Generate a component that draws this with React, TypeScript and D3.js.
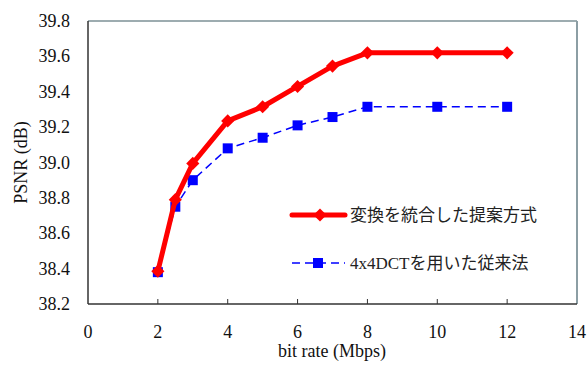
import { useEffect, useRef } from 'react';
import * as d3 from 'd3';

// bit rate (Mbps)
const bitRates = [2, 2.5, 3, 4, 5, 6, 7, 8, 10, 12];
// PSNR (dB)
const proposed = [38.385, 38.79, 38.995, 39.235, 39.315, 39.43, 39.545, 39.62, 39.62, 39.62];
const conventional = [38.38, 38.75, 38.9, 39.08, 39.14, 39.21, 39.257, 39.315, 39.315, 39.315];

const xTicks = [0, 2, 4, 6, 8, 10, 12, 14];
const yTicks = [38.2, 38.4, 38.6, 38.8, 39.0, 39.2, 39.4, 39.6, 39.8];

const legendLabels = ['変換を統合した提案方式', '4x4DCTを用いた従来法'];

export default function App() {
    const svgRef = useRef<SVGSVGElement>(null);

    useEffect(() => {
        if (!svgRef.current) return;
        const svg = d3.select(svgRef.current);
        svg.selectAll('*').remove();

        const left = 88, right = 577, top = 21, bottom = 304;
        const serif = '"Liberation Serif", "Times New Roman", serif';
        const jp = '"Liberation Serif", "Noto Sans CJK JP", serif';
        const fs = 18;

        const x = d3.scaleLinear().domain([0, 14]).range([left, right]);
        const y = d3.scaleLinear().domain([38.2, 39.8]).range([bottom, top]);

        svg.append('rect')
            .attr('width', 587).attr('height', 367).attr('fill', '#fff');

        // frame: top and right gray
        svg.append('line')
            .attr('x1', left).attr('x2', right).attr('y1', top).attr('y2', top)
            .attr('stroke', '#7d9096').attr('stroke-width', 1.5);
        svg.append('line')
            .attr('x1', right).attr('x2', right).attr('y1', top).attr('y2', bottom)
            .attr('stroke', '#8c9ea4').attr('stroke-width', 2);

        // x axis
        const gx = svg.append('g');
        gx.append('line')
            .attr('x1', left).attr('x2', right).attr('y1', bottom).attr('y2', bottom)
            .attr('stroke', '#333').attr('stroke-width', 1.5);
        xTicks.forEach(t => {
            if (t > 0 && t < 14) {
                gx.append('line')
                    .attr('x1', x(t)).attr('x2', x(t))
                    .attr('y1', bottom).attr('y2', bottom - 5)
                    .attr('stroke', '#333').attr('stroke-width', 1);
            }
            gx.append('text')
                .attr('x', x(t)).attr('y', 338)
                .attr('text-anchor', 'middle')
                .attr('font-family', serif).attr('font-size', fs)
                .attr('fill', '#111')
                .text(String(t));
        });

        // y axis
        const gy = svg.append('g');
        gy.append('line')
            .attr('x1', left).attr('x2', left).attr('y1', top).attr('y2', bottom)
            .attr('stroke', '#333').attr('stroke-width', 1.5);
        yTicks.forEach(t => {
            gy.append('text')
                .attr('x', 70).attr('y', y(t) + 6)
                .attr('text-anchor', 'end')
                .attr('font-family', serif).attr('font-size', fs)
                .attr('fill', '#111')
                .text(t.toFixed(1));
        });

        // axis titles
        svg.append('text')
            .attr('x', 332).attr('y', 357)
            .attr('text-anchor', 'middle')
            .attr('font-family', serif).attr('font-size', fs)
            .attr('fill', '#111')
            .text('bit rate (Mbps)');
        svg.append('text')
            .attr('transform', `translate(27,${(top + bottom) / 2}) rotate(-90)`)
            .attr('text-anchor', 'middle')
            .attr('font-family', serif).attr('font-size', fs)
            .attr('fill', '#111')
            .text('PSNR (dB)');

        const line = d3.line<number>()
            .x((_, i) => x(bitRates[i]))
            .y(d => y(d));

        // conventional (blue dashed, squares)
        svg.append('path')
            .attr('d', line(conventional)!)
            .attr('fill', 'none')
            .attr('stroke', '#0000ff')
            .attr('stroke-width', 1.5)
            .attr('stroke-dasharray', '8,5');
        svg.selectAll('.sq')
            .data(conventional)
            .enter().append('rect')
            .attr('x', (_, i) => x(bitRates[i]) - 5)
            .attr('y', d => y(d) - 5)
            .attr('width', 10).attr('height', 10)
            .attr('fill', '#0000ff');

        // proposed (red thick, diamonds)
        svg.append('path')
            .attr('d', line(proposed)!)
            .attr('fill', 'none')
            .attr('stroke', '#ff0000')
            .attr('stroke-width', 5)
            .attr('stroke-linejoin', 'round');
        const diamond = d3.symbol().type(d3.symbolDiamond2).size(110);
        svg.selectAll('.dm')
            .data(proposed)
            .enter().append('path')
            .attr('d', diamond()!)
            .attr('transform', (d, i) => `translate(${x(bitRates[i])},${y(d)})`)
            .attr('fill', '#ff0000');

        // legend
        const lg = svg.append('g');
        lg.append('line')
            .attr('x1', 292).attr('x2', 345).attr('y1', 215).attr('y2', 215)
            .attr('stroke', '#ff0000').attr('stroke-width', 5)
            .attr('stroke-linecap', 'round');
        lg.append('path')
            .attr('d', diamond()!)
            .attr('transform', 'translate(320,215)')
            .attr('fill', '#ff0000');
        lg.append('text')
            .attr('x', 350).attr('y', 221)
            .attr('font-family', jp).attr('font-size', 17)
            .attr('fill', '#222')
            .text(legendLabels[0]);

        lg.append('line')
            .attr('x1', 292).attr('x2', 345).attr('y1', 263).attr('y2', 263)
            .attr('stroke', '#0000ff').attr('stroke-width', 1.5)
            .attr('stroke-dasharray', '8,5');
        lg.append('rect')
            .attr('x', 313).attr('y', 258).attr('width', 10).attr('height', 10)
            .attr('fill', '#0000ff');
        lg.append('text')
            .attr('x', 350).attr('y', 269)
            .attr('font-family', jp).attr('font-size', 17)
            .attr('fill', '#222')
            .text(legendLabels[1]);
    }, []);

    return (
        <svg
            ref={svgRef}
            width="587"
            height="367"
            style={{ position: 'absolute', left: 0, top: 0 }}
        />
    );
}
